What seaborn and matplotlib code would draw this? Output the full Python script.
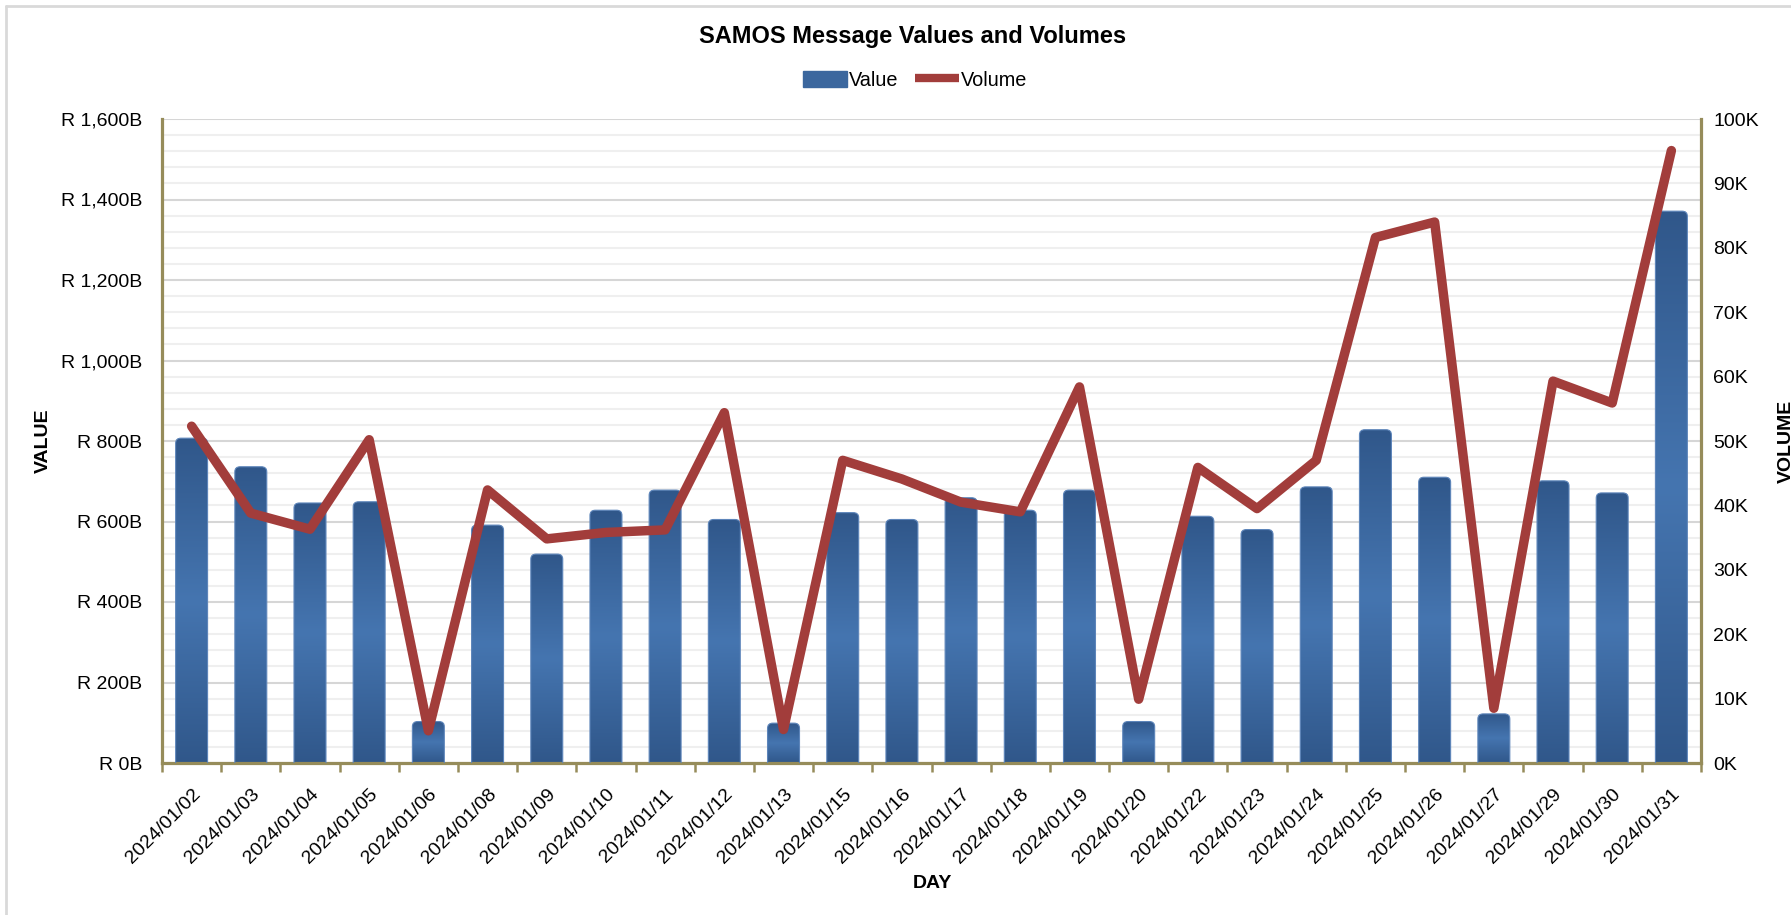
import numpy as np
import pandas as pd
import matplotlib
matplotlib.use("Agg")
import matplotlib.pyplot as plt
import seaborn as sns
from matplotlib.patches import FancyBboxPatch, Patch
from matplotlib.lines import Line2D
from matplotlib.colors import LinearSegmentedColormap
from matplotlib.ticker import FuncFormatter, MultipleLocator

# ── Data ──────────────────────────────────────
days = [
    "2024/01/02", "2024/01/03", "2024/01/04", "2024/01/05", "2024/01/06",
    "2024/01/08", "2024/01/09", "2024/01/10", "2024/01/11", "2024/01/12",
    "2024/01/13", "2024/01/15", "2024/01/16", "2024/01/17", "2024/01/18",
    "2024/01/19", "2024/01/20", "2024/01/22", "2024/01/23", "2024/01/24",
    "2024/01/25", "2024/01/26", "2024/01/27", "2024/01/29", "2024/01/30",
    "2024/01/31",
]
# message value, R billion
values_bn = [
    807, 736, 646, 649, 103, 591, 519, 628, 678, 605,
    99, 622, 605, 659, 628, 678, 103, 613, 580, 686,
    828, 710, 122, 701, 671, 1371,
]
# message volume, thousands
volumes_k = [
    52.3, 38.8, 36.3, 50.2, 5.0, 42.4, 34.8, 35.8, 36.2, 54.4,
    5.2, 47.0, 44.1, 40.5, 39.0, 58.4, 9.9, 45.9, 39.5, 47.0,
    81.6, 84.0, 8.5, 59.3, 55.9, 95.1,
]

df = pd.DataFrame({"day": days, "value": values_bn, "volume": volumes_k})
df["pos"] = np.arange(len(df))

BAR_DARK = "#30578a"
BAR_LIGHT = "#4575b0"
LINE_RED = "#a23d3b"
AXIS_OLIVE = "#968c5a"
W, H = 1791, 915

sns.set_theme(style="white")
plt.rcParams["font.family"] = ["Liberation Sans", "DejaVu Sans"]

fig = plt.figure(figsize=(W / 100, H / 100), dpi=100)
ax = fig.add_axes([162 / W, (H - 763) / H, (1701 - 162) / W, (763 - 119) / H])

# ── Bars: seaborn first, then restyled with rounded gradient boxes ──
sns.barplot(data=df, x="day", y="value", ax=ax, width=0.54,
            color=BAR_LIGHT, saturation=1)

grad_cmap = LinearSegmentedColormap.from_list(
    "bar", [(0.0, BAR_DARK), (0.5, BAR_LIGHT), (1.0, BAR_DARK)])
grad = np.linspace(0, 1, 256).reshape(-1, 1)

for rect in list(ax.patches):
    x, w, h = rect.get_x(), rect.get_width(), rect.get_height()
    rect.set_visible(False)
    box = FancyBboxPatch((x, -40), w, h + 40,
                         boxstyle="round,pad=0,rounding_size=0.09",
                         mutation_aspect=140, facecolor="none",
                         edgecolor="#5d85ba", linewidth=0.8, zorder=3)
    ax.add_patch(box)
    im = ax.imshow(grad, extent=(x, x + w, 0, h), origin="lower",
                   cmap=grad_cmap, aspect="auto", zorder=2.5,
                   interpolation="bicubic")
    im.set_clip_path(box)

ax.set_xlim(-0.5, len(df) - 0.5)
ax.set_ylim(0, 1600)
ax.yaxis.set_major_locator(MultipleLocator(200))
ax.yaxis.set_minor_locator(MultipleLocator(40))
ax.yaxis.set_major_formatter(FuncFormatter(lambda v, _: f"R {v:,.0f}B"))
ax.grid(which="major", axis="y", color="#d6d6d6", lw=1.5)
ax.grid(which="minor", axis="y", color="#efefef", lw=1.5)
ax.grid(which="both", axis="x", visible=False)
ax.set_axisbelow(True)

ax.set_xticks(df["pos"])
ax.set_xticklabels(days, rotation=45, ha="right", va="top",
                   rotation_mode="anchor", fontsize=14)
ax.set_xticks(np.arange(-0.5, len(df)), minor=True)
ax.tick_params(axis="x", which="major", length=0, pad=16,
               labelcolor="#000000")
ax.tick_params(axis="x", which="minor", bottom=True, length=6.5,
               width=1.8, color=AXIS_OLIVE, direction="out")
ax.tick_params(axis="y", which="both", length=0, pad=14, labelsize=14,
               labelcolor="#000000")
ax.set_xlabel("")
ax.set_ylabel("")

for side in ["top", "right"]:
    ax.spines[side].set_visible(False)
for side in ["left", "bottom"]:
    ax.spines[side].set_color(AXIS_OLIVE)
    ax.spines[side].set_linewidth(2.3)

# ── Volume line on the secondary axis ─────────
ax2 = ax.twinx()
sns.lineplot(data=df, x="pos", y="volume", ax=ax2, color=LINE_RED,
             lw=6.8, solid_joinstyle="round", solid_capstyle="round",
             legend=False)
ax2.set_ylim(0, 100)
ax2.set_xlim(-0.5, len(df) - 0.5)
ax2.yaxis.set_major_locator(MultipleLocator(10))
ax2.yaxis.set_major_formatter(FuncFormatter(lambda v, _: f"{v:.0f}K"))
ax2.tick_params(axis="y", length=0, pad=9, labelsize=14,
                labelcolor="#000000", right=False)
ax2.set_ylabel("")
ax2.set_xlabel("")
for side in ["top", "left", "bottom"]:
    ax2.spines[side].set_visible(False)
ax2.spines["right"].set_color(AXIS_OLIVE)
ax2.spines["right"].set_linewidth(2.3)

# ── Titles, axis labels ───────────────────────
fig.text(913 / W, 1 - 36 / H, "SAMOS Message Values and Volumes",
         ha="center", va="center", fontsize=17, fontweight="bold",
         color="#000000")
fig.text(43 / W, 1 - 441 / H, "VALUE", rotation=90, ha="center",
         va="center", fontsize=14, fontweight="bold", color="#000000")
fig.text(1786 / W, 1 - 441 / H, "VOLUME", rotation=90, ha="center",
         va="center", fontsize=14, fontweight="bold", color="#000000")
fig.text(932 / W, 1 - 884 / H, "DAY", ha="center", va="center",
         fontsize=14, fontweight="bold", color="#000000")

handles = [
    Patch(facecolor="#3b679e", edgecolor="#3b679e"),
    Line2D([0], [0], color=LINE_RED, lw=6, solid_capstyle="butt"),
]
fig.legend(handles, ["Value", "Volume"], loc="center",
           bbox_to_anchor=(915 / W, 1 - 80 / H), ncol=2, frameon=False,
           fontsize=14.3, handlelength=2.2, handleheight=0.85,
           handletextpad=0.1, columnspacing=0.85, labelcolor="#000000")

# chart-area border (only top and left edges fall inside the image)
fig.add_artist(Line2D([6 / W, 1], [1 - 6 / H, 1 - 6 / H],
                      transform=fig.transFigure, color="#d9d9d9", lw=2))
fig.add_artist(Line2D([6 / W, 6 / W], [0, 1 - 6 / H],
                      transform=fig.transFigure, color="#d9d9d9", lw=2))

fig.savefig("out.png", dpi=100, facecolor="white")
